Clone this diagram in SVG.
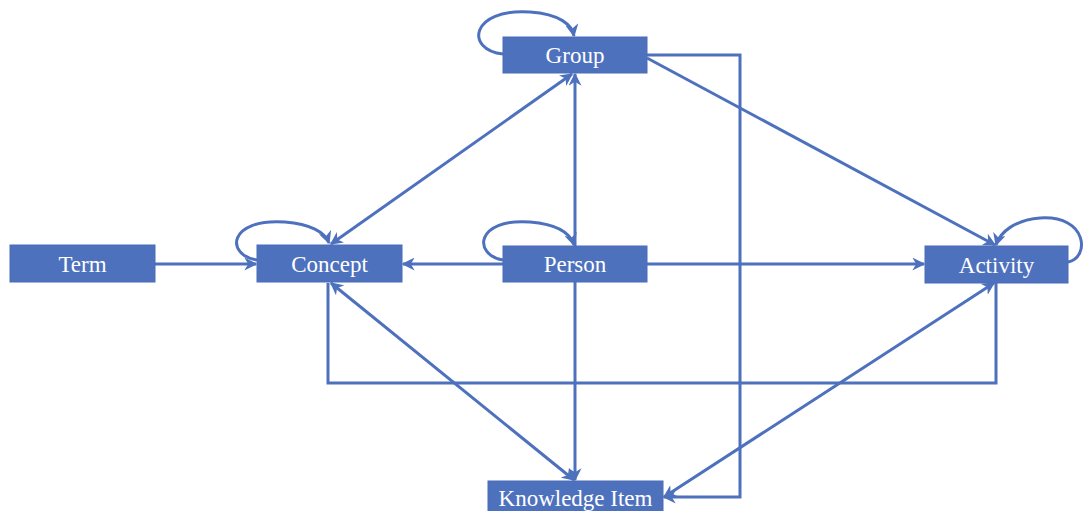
<svg xmlns="http://www.w3.org/2000/svg" width="1084" height="511" viewBox="0 0 1084 511">
<style>
.box{fill:#4e71be;stroke:#4a6db8;stroke-width:1}
.lbl{font-family:"Liberation Serif","Times New Roman",serif;font-size:23px;fill:#ffffff;text-anchor:middle}
.ln{fill:none;stroke:#4e71be;stroke-width:3}
</style>
<defs>
<marker id="ah" viewBox="0 0 10 10" refX="9" refY="5" markerWidth="13" markerHeight="13" markerUnits="userSpaceOnUse" orient="auto-start-reverse">
<path d="M0,0 L10,5 L0,10 L3,5 Z" fill="#4e71be"/>
</marker>
</defs>
<rect width="1084" height="511" fill="#ffffff"/>
<g id="connectors">
<path class="ln" d="M155 264 H256" marker-end="url(#ah)"/>
<path class="ln" d="M503 264 H403" marker-end="url(#ah)"/>
<path class="ln" d="M647 264 H924" marker-end="url(#ah)"/>
<path class="ln" d="M575 246 V74" marker-end="url(#ah)"/>
<path class="ln" d="M575 282 V480" marker-end="url(#ah)"/>
<path class="ln" d="M331 244 L572 74" marker-start="url(#ah)" marker-end="url(#ah)"/>
<path class="ln" d="M647 58 L995 245" marker-end="url(#ah)"/>
<path class="ln" d="M647 55 H740 V497 H664" marker-end="url(#ah)"/>
<path class="ln" d="M331 283 L574 480" marker-start="url(#ah)" marker-end="url(#ah)"/>
<path class="ln" d="M994 283 L664 497" marker-start="url(#ah)" marker-end="url(#ah)"/>
<path class="ln" d="M328 283 V383 H996 V283"/>
<path class="ln" d="M503 54 C465 50 470 8 530 12 C560 14 572 25 574 36" marker-end="url(#ah)"/>
<path class="ln" d="M257 260 C225 255 228 218 285 222 C310 224 325 232 329 243" marker-end="url(#ah)"/>
<path class="ln" d="M503 260 C473 255 475 218 530 222 C555 224 570 232 574 245" marker-end="url(#ah)"/>
<path class="ln" d="M1068 262 C1090 258 1088 215 1040 218 C1015 220 1000 232 996 245" marker-end="url(#ah)"/>
</g>
<g id="node-term"><rect class="box" x="10" y="245" width="145" height="37"/><text class="lbl" x="82.5" y="272">Term</text></g>
<g id="node-concept"><rect class="box" x="257" y="245" width="145" height="37"/><text class="lbl" x="329.5" y="272">Concept</text></g>
<g id="node-person"><rect class="box" x="503" y="246" width="144" height="36"/><text class="lbl" x="575" y="272">Person</text></g>
<g id="node-activity"><rect class="box" x="925" y="246" width="143" height="37"/><text class="lbl" x="996.5" y="273">Activity</text></g>
<g id="node-group"><rect class="box" x="503" y="37" width="144" height="36"/><text class="lbl" x="575" y="63">Group</text></g>
<g id="node-knowledge-item"><rect class="box" x="488" y="481" width="175" height="36"/><text class="lbl" x="575.5" y="506">Knowledge Item</text></g>
</svg>
